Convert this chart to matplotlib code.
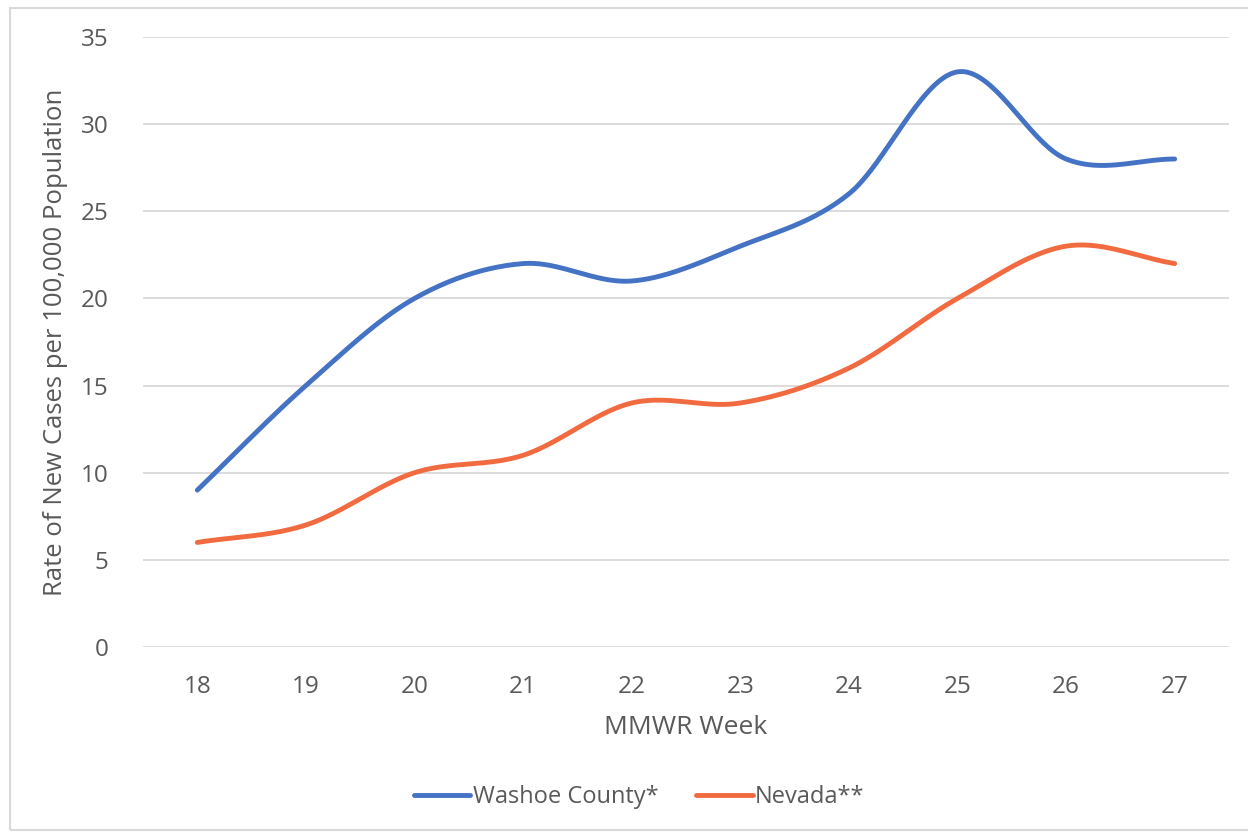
import numpy as np
import matplotlib.pyplot as plt
from matplotlib.patches import Rectangle

# data
weeks = [18, 19, 20, 21, 22, 23, 24, 25, 26, 27]
washoe = [9, 15, 20, 22, 21, 23, 26, 33, 28, 28]
nevada = [6, 7, 10, 11, 14, 14, 16, 20, 23, 22]

blue = '#4472C4'
orange = '#F26A3F'
grey_txt = '#595959'

plt.rcParams['font.family'] = ['Open Sans', 'DejaVu Sans']


def smooth(x, y, n=40):
    # catmull-rom curve through the points, like the "smoothed line" option
    x = np.asarray(x, float)
    y = np.asarray(y, float)
    px = np.concatenate([[2 * x[0] - x[1]], x, [2 * x[-1] - x[-2]]])
    py = np.concatenate([[2 * y[0] - y[1]], y, [2 * y[-1] - y[-2]]])
    xs, ys = [], []
    t = np.linspace(0, 1, n)
    for i in range(1, len(px) - 2):
        for p, out in ((px, xs), (py, ys)):
            p0, p1, p2, p3 = p[i - 1], p[i], p[i + 1], p[i + 2]
            c = 0.5 * ((2 * p1) + (-p0 + p2) * t + (2 * p0 - 5 * p1 + 4 * p2 - p3) * t ** 2
                       + (-p0 + 3 * p1 - 3 * p2 + p3) * t ** 3)
            out.extend(c)
    return np.array(xs), np.array(ys)


fig = plt.figure(figsize=(12.48, 8.33), dpi=100)
fig.patches.append(Rectangle((10 / 1248, 3 / 833), 1.2, 822 / 833, transform=fig.transFigure,
                             fill=False, edgecolor='#D9D9D9', linewidth=1.5))

ax = fig.add_axes([143 / 1248, 1 - 647 / 833, 1086 / 1248, 610 / 833])

for vals, col, lab in ((washoe, blue, 'Washoe County*'), (nevada, orange, 'Nevada**')):
    sx, sy = smooth(weeks, vals)
    ax.plot(sx, sy, color=col, linewidth=3.5, solid_capstyle='round', label=lab)

ax.set_xlim(17.5, 27.5)
ax.set_ylim(0, 35)
ax.set_yticks(range(0, 36, 5))
ax.set_xticks(weeks)
ax.grid(axis='y', color='#D9D9D9', linewidth=1.3)
ax.set_axisbelow(True)
for s in ax.spines.values():
    s.set_visible(False)
ax.tick_params(length=0, labelsize=17.5, labelcolor=grey_txt)
ax.tick_params(axis='y', pad=25)
ax.tick_params(axis='x', pad=20)

ax.set_xlabel('MMWR Week', fontsize=19, color=grey_txt, labelpad=12)
ax.set_ylabel('Rate of New Cases per 100,000 Population', fontsize=18.5, color=grey_txt, labelpad=9)

fig.legend(loc='center', bbox_to_anchor=(639 / 1248, 1 - 797 / 833), ncol=2, frameon=False,
           fontsize=17, labelcolor=grey_txt, handlelength=2.4, handletextpad=0.1, columnspacing=1.6)

fig.savefig('out.png', dpi=100)
